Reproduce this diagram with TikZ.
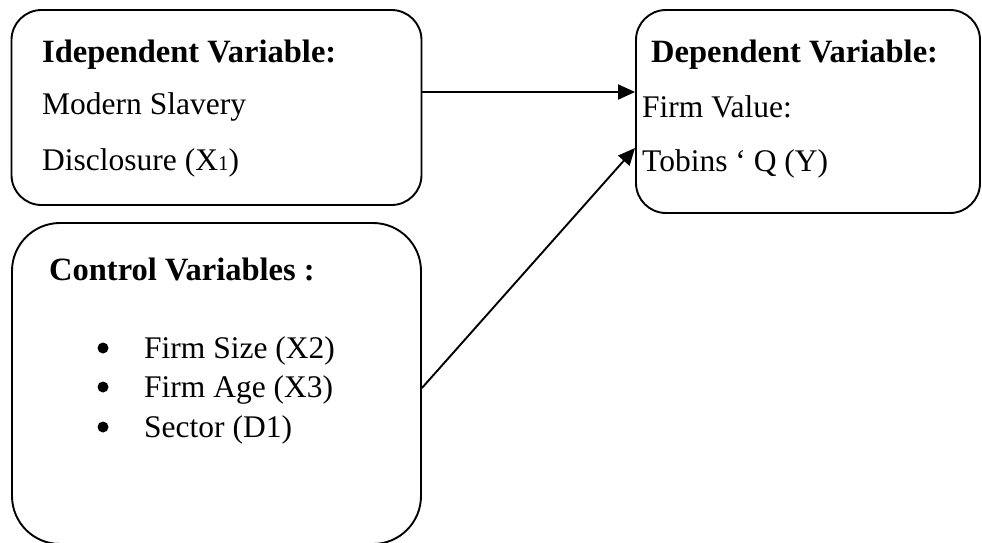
\documentclass[tikz,border=0pt]{standalone}
\usepackage{fontspec}
\setmainfont{Liberation Serif}
\usetikzlibrary{arrows.meta}
\tikzset{
  box/.style={draw, line width=1.9pt, rounded corners=#1, inner sep=0pt},
  txt/.style={anchor=base west, inner sep=0pt, font=\fontsize{31.5}{31.5}\selectfont},
  head/.style={txt, font=\fontsize{32.5}{32.5}\selectfont\bfseries},
  dot/.style={circle, fill, inner sep=0pt, minimum size=11pt},
  arr/.style={line width=1.9pt, -{Triangle[length=17pt,width=15pt]}}
}
\begin{document}
\begin{tikzpicture}[x=1pt,y=-1pt]
\useasboundingbox (0,0) rectangle (982,542);
% boxes
\node[box=30pt, minimum width=410pt, minimum height=195pt] (A) at (216.5,107.5) {};
\node[box=30pt, minimum width=344pt, minimum height=203pt] (B) at (808,111.5) {};
\node[box=48pt, minimum width=409pt, minimum height=321pt] (C) at (216.5,383.5) {};
% texts
\node[head] (a0) at (42,62) {Idependent Variable:};
\node[txt] (a1) at (42,114) {Modern Slavery};
\node[txt] (a2) at (42,170) {Disclosure (X{\fontsize{21}{21}\selectfont 1})};
\node[head] (b0) at (651,62) {Dependent Variable:};
\node[txt] (b1) at (642,117) {Firm Value:};
\node[txt] (b2) at (642,171) {Tobins ‘ Q (Y)};
\node[head] (c0) at (49,280) {Control Variables :};
\node[dot] (d1) at (103,348) {};
\node[dot] (d2) at (103,387) {};
\node[dot] (d3) at (103,427) {};
\node[txt] (c1) at (144,358) {Firm Size (X2)};
\node[txt] (c2) at (144,397) {Firm Age (X3)};
\node[txt] (c3) at (144,437) {Sector (D1)};
% connectors
\draw[arr] ([yshift=15.5pt]A.east) -- ([yshift=19.5pt]B.west);
\draw[arr] ([yshift=-4.5pt]C.east) -- ([yshift=-36.5pt]B.west);
\end{tikzpicture}
\end{document}
